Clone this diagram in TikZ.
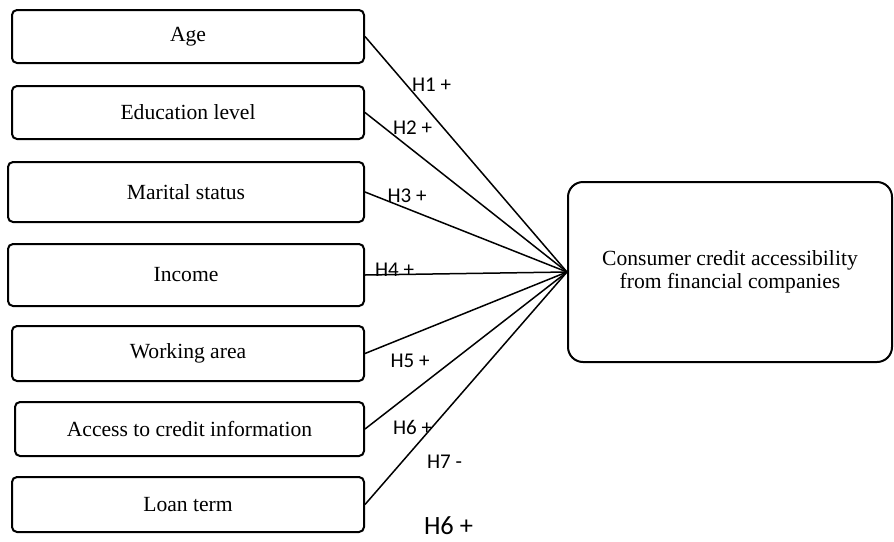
\documentclass[tikz,border=0pt]{standalone}
\usepackage{fontspec}
\setmainfont{Liberation Serif}
\newfontfamily\hypFont{Carlito}
\tikzset{
	factor/.style={draw, line width=1pt, rounded corners=2.5pt, align=center, inner sep=0pt,
		font=\fontsize{10.8}{11.8}\selectfont},
	hyp/.style={inner sep=0pt, font=\hypFont\fontsize{10.5}{12}\selectfont},
	link/.style={line width=0.75pt}
}
\begin{document}
\begin{tikzpicture}[x=0.5pt, y=-0.5pt]
	\useasboundingbox (0, 0) rectangle (894, 541);
	% left column
	\node[factor, minimum width=176pt, minimum height=26.5pt] (age) at (188, 36.5) {Age};
	\node[factor, minimum width=176pt, minimum height=26.5pt] (education) at (188, 112.5) {Education level};
	\node[factor, minimum width=178pt, minimum height=30pt] (marital) at (186, 192) {Marital status};
	\node[factor, minimum width=178pt, minimum height=31pt] (income) at (186, 275) {Income};
	\node[factor, minimum width=176pt, minimum height=27.5pt] (workArea) at (188, 353.5) {Working area};
	\node[factor, minimum width=174.5pt, minimum height=27pt] (creditInfo) at (189.5, 429) {Access to credit information};
	\node[factor, minimum width=176pt, minimum height=27.5pt] (loanTerm) at (188, 504.5) {Loan term};
	% dependent variable
	\node[factor, rounded corners=7.5pt, minimum width=162pt, minimum height=90pt] (access) at (730, 272)
		{Consumer credit accessibility\\from financial companies};
	\draw[link] (age.east) -- (access.west);
	\draw[link] (education.east) -- (access.west);
	\draw[link] (marital.east) -- (access.west);
	\draw[link] (income.east) -- (access.west);
	\draw[link] (workArea.east) -- (access.west);
	\draw[link] (creditInfo.east) -- (access.west);
	\draw[link] (loanTerm.east) -- (access.west);
	% hypotheses
	\node[hyp] (h1) at (431.5, 85) {H1 +};
	\node[hyp] (h2) at (412.5, 128) {H2 +};
	\node[hyp] (h3) at (407, 196) {H3 +};
	\node[hyp] (h4) at (394.5, 270) {H4 +};
	\node[hyp] (h5) at (410, 361) {H5 +};
	\node[hyp] (h6) at (412.5, 427) {H6 +};
	\node[hyp] (h7) at (444.5, 462) {H7 -};
	\node[hyp, font=\hypFont\fontsize{13.2}{15}\selectfont] (h6b) at (448.5, 526) {H6 +};
\end{tikzpicture}
\end{document}
